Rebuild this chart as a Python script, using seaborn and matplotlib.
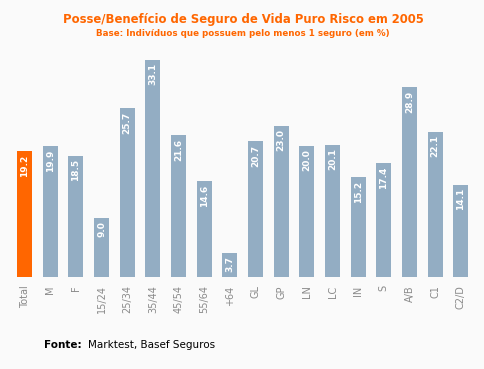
import matplotlib
matplotlib.use("Agg")
import matplotlib.pyplot as plt
import seaborn as sns
import pandas as pd

# data
categories = ["Total", "M", "F", "15/24", "25/34", "35/44", "45/54", "55/64", "+64",
              "GL", "GP", "LN", "LC", "IN", "S", "A/B", "C1", "C2/D"]
values = [19.2, 19.9, 18.5, 9.0, 25.7, 33.1, 21.6, 14.6, 3.7,
          20.7, 23.0, 20.0, 20.1, 15.2, 17.4, 28.9, 22.1, 14.1]
groups = ["total"] + ["seg"] * 17

df = pd.DataFrame({"cat": categories, "val": values, "grp": groups})

sns.set_style("white")
plt.rcParams['font.family'] = ['DejaVu Sans']

fig = plt.figure(figsize=(4.84, 3.69), dpi=100, facecolor="#fafafa")
ax = fig.add_axes([11.7 / 484, 1 - 277 / 369, 462 / 484, 230 / 369])
ax.set_facecolor("#fafafa")

sns.barplot(data=df, x="cat", y="val", hue="grp", dodge=False, legend=False,
            palette={"total": "#ff6600", "seg": "#93adc3"}, width=0.58,
            saturation=1, linewidth=0, ax=ax)

ax.set_xlim(-0.5, len(categories) - 0.5)
ax.set_ylim(0, 230 / 6.56)
for s in ax.spines.values():
    s.set_visible(False)
ax.set_yticks([])
ax.set_xlabel("")
ax.set_ylabel("")
ax.tick_params(axis="x", length=0, pad=6, labelsize=7, labelcolor="#8a8a8a", rotation=90)

# value labels inside bars
for i, v in enumerate(values):
    ax.text(i, v - 0.5, f"{v:.1f}", rotation=90, ha="center", va="top",
            color="white", fontsize=6.5, fontweight="bold")

fig.text(0.502, 1 - 20 / 369, "Posse/Benefício de Seguro de Vida Puro Risco em 2005",
         ha="center", va="center", color="#ff6600", fontsize=8.4, fontweight="bold")
fig.text(0.502, 1 - 34 / 369, "Base: Indivíduos que possuem pelo menos 1 seguro (em %)",
         ha="center", va="center", color="#ff6600", fontsize=6.3, fontweight="bold")

fig.text(44 / 484, 1 - 345 / 369, "Fonte:", ha="left", va="center",
         color="black", fontsize=7.5, fontweight="bold")
fig.text(88 / 484, 1 - 345 / 369, "Marktest, Basef Seguros", ha="left", va="center",
         color="black", fontsize=7.5)

plt.savefig("out.png", dpi=100, facecolor="#fafafa")
